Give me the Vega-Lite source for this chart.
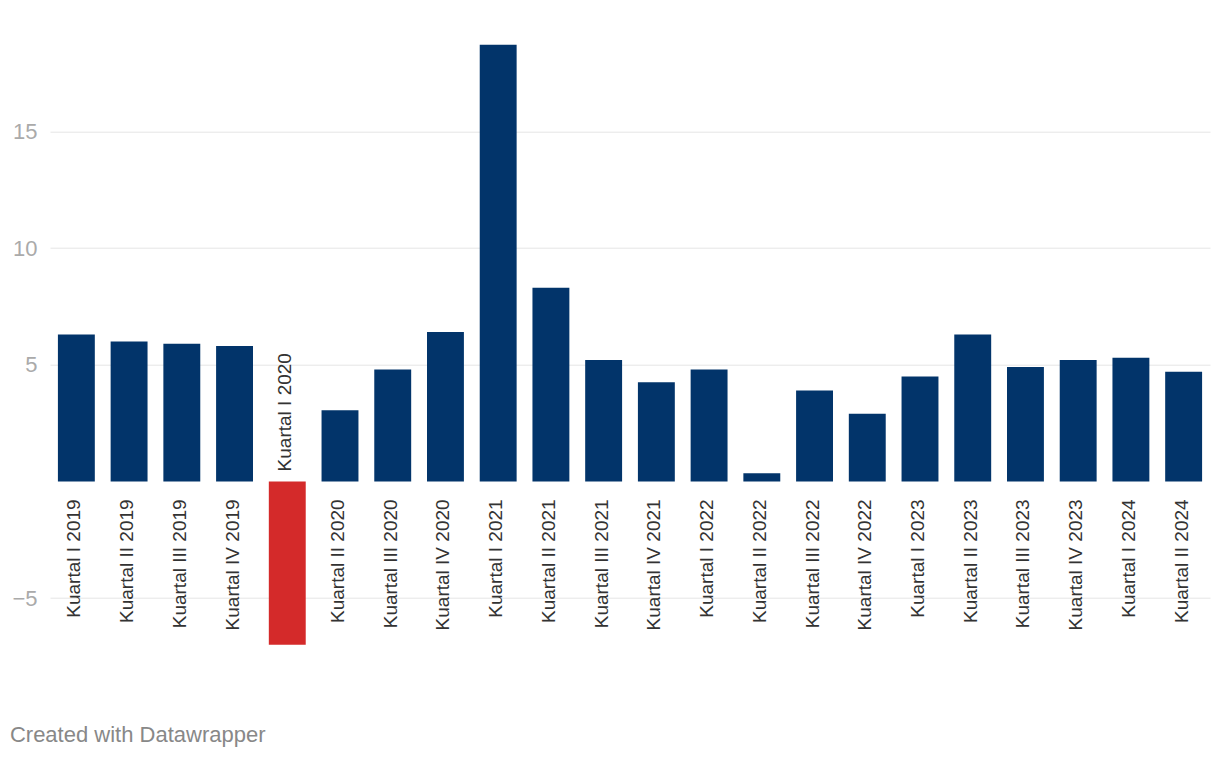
{
  "$schema": "https://vega.github.io/schema/vega-lite/v6.json",
  "width": 1160,
  "height": 600,
  "autosize": {"type": "none"},
  "padding": {"left": 50, "top": 44.7, "right": 10, "bottom": 115.3},
  "background": "white",
  "config": {"view": {"stroke": null}, "font": "Liberation Sans"},
  "title": {
    "text": "Created with Datawrapper",
    "orient": "bottom",
    "anchor": "start",
    "dx": -2,
    "offset": 80,
    "baseline": "top",
    "fontSize": 22,
    "fontWeight": "normal",
    "color": "#888888",
    "font": "Liberation Sans"
  },
  "data": {
    "values": [
      {"q": "Kuartal I 2019", "v": 6.3},
      {"q": "Kuartal II 2019", "v": 6.0},
      {"q": "Kuartal III 2019", "v": 5.9},
      {"q": "Kuartal IV 2019", "v": 5.8},
      {"q": "Kuartal I 2020", "v": -7.0},
      {"q": "Kuartal II 2020", "v": 3.05},
      {"q": "Kuartal III 2020", "v": 4.8},
      {"q": "Kuartal IV 2020", "v": 6.4},
      {"q": "Kuartal I 2021", "v": 18.72},
      {"q": "Kuartal II 2021", "v": 8.3},
      {"q": "Kuartal III 2021", "v": 5.2},
      {"q": "Kuartal IV 2021", "v": 4.25},
      {"q": "Kuartal I 2022", "v": 4.8},
      {"q": "Kuartal II 2022", "v": 0.35},
      {"q": "Kuartal III 2022", "v": 3.9},
      {"q": "Kuartal IV 2022", "v": 2.9},
      {"q": "Kuartal I 2023", "v": 4.5},
      {"q": "Kuartal II 2023", "v": 6.3},
      {"q": "Kuartal III 2023", "v": 4.9},
      {"q": "Kuartal IV 2023", "v": 5.2},
      {"q": "Kuartal I 2024", "v": 5.3},
      {"q": "Kuartal II 2024", "v": 4.7}
    ]
  },
  "encoding": {
    "x": {
      "field": "q",
      "type": "nominal",
      "sort": null,
      "axis": null,
      "scale": {"paddingInner": 0.3, "paddingOuter": 0.15}
    }
  },
  "layer": [
    {
      "mark": {"type": "bar"},
      "encoding": {
        "y": {
          "field": "v",
          "type": "quantitative",
          "scale": {"domain": [-7, 18.72], "nice": false, "zero": false},
          "axis": {
            "title": null,
            "values": [-5, 5, 10, 15],
            "domain": false,
            "ticks": false,
            "labelFontSize": 22,
            "labelColor": "#aaaaaa",
            "labelPadding": 13,
            "labelFont": "Liberation Sans",
            "gridColor": "#e5e5e5",
            "gridWidth": 1,
            "labelExpr": "datum.value < 0 ? '\u2212' + abs(datum.value) : datum.label"
          }
        },
        "y2": {"datum": 0},
        "color": {
          "condition": {"test": "datum.v < 0", "value": "#d42a2a"},
          "value": "#02346a"
        }
      }
    },
    {
      "mark": {"type": "rule", "color": "#333333", "strokeWidth": 2},
      "encoding": {"y": {"datum": 0}}
    },
    {
      "transform": [{"filter": "datum.v >= 0"}],
      "mark": {
        "type": "text",
        "angle": 270,
        "align": "right",
        "baseline": "middle",
        "dx": -18,
        "dy": -2,
        "fontSize": 19,
        "color": "#333333",
        "font": "Liberation Sans"
      },
      "encoding": {"y": {"datum": 0}, "text": {"field": "q"}}
    },
    {
      "transform": [{"filter": "datum.v < 0"}],
      "mark": {
        "type": "text",
        "angle": 270,
        "align": "left",
        "baseline": "middle",
        "dx": 10,
        "dy": -2,
        "fontSize": 19,
        "color": "#333333",
        "font": "Liberation Sans"
      },
      "encoding": {"y": {"datum": 0}, "text": {"field": "q"}}
    }
  ]
}
